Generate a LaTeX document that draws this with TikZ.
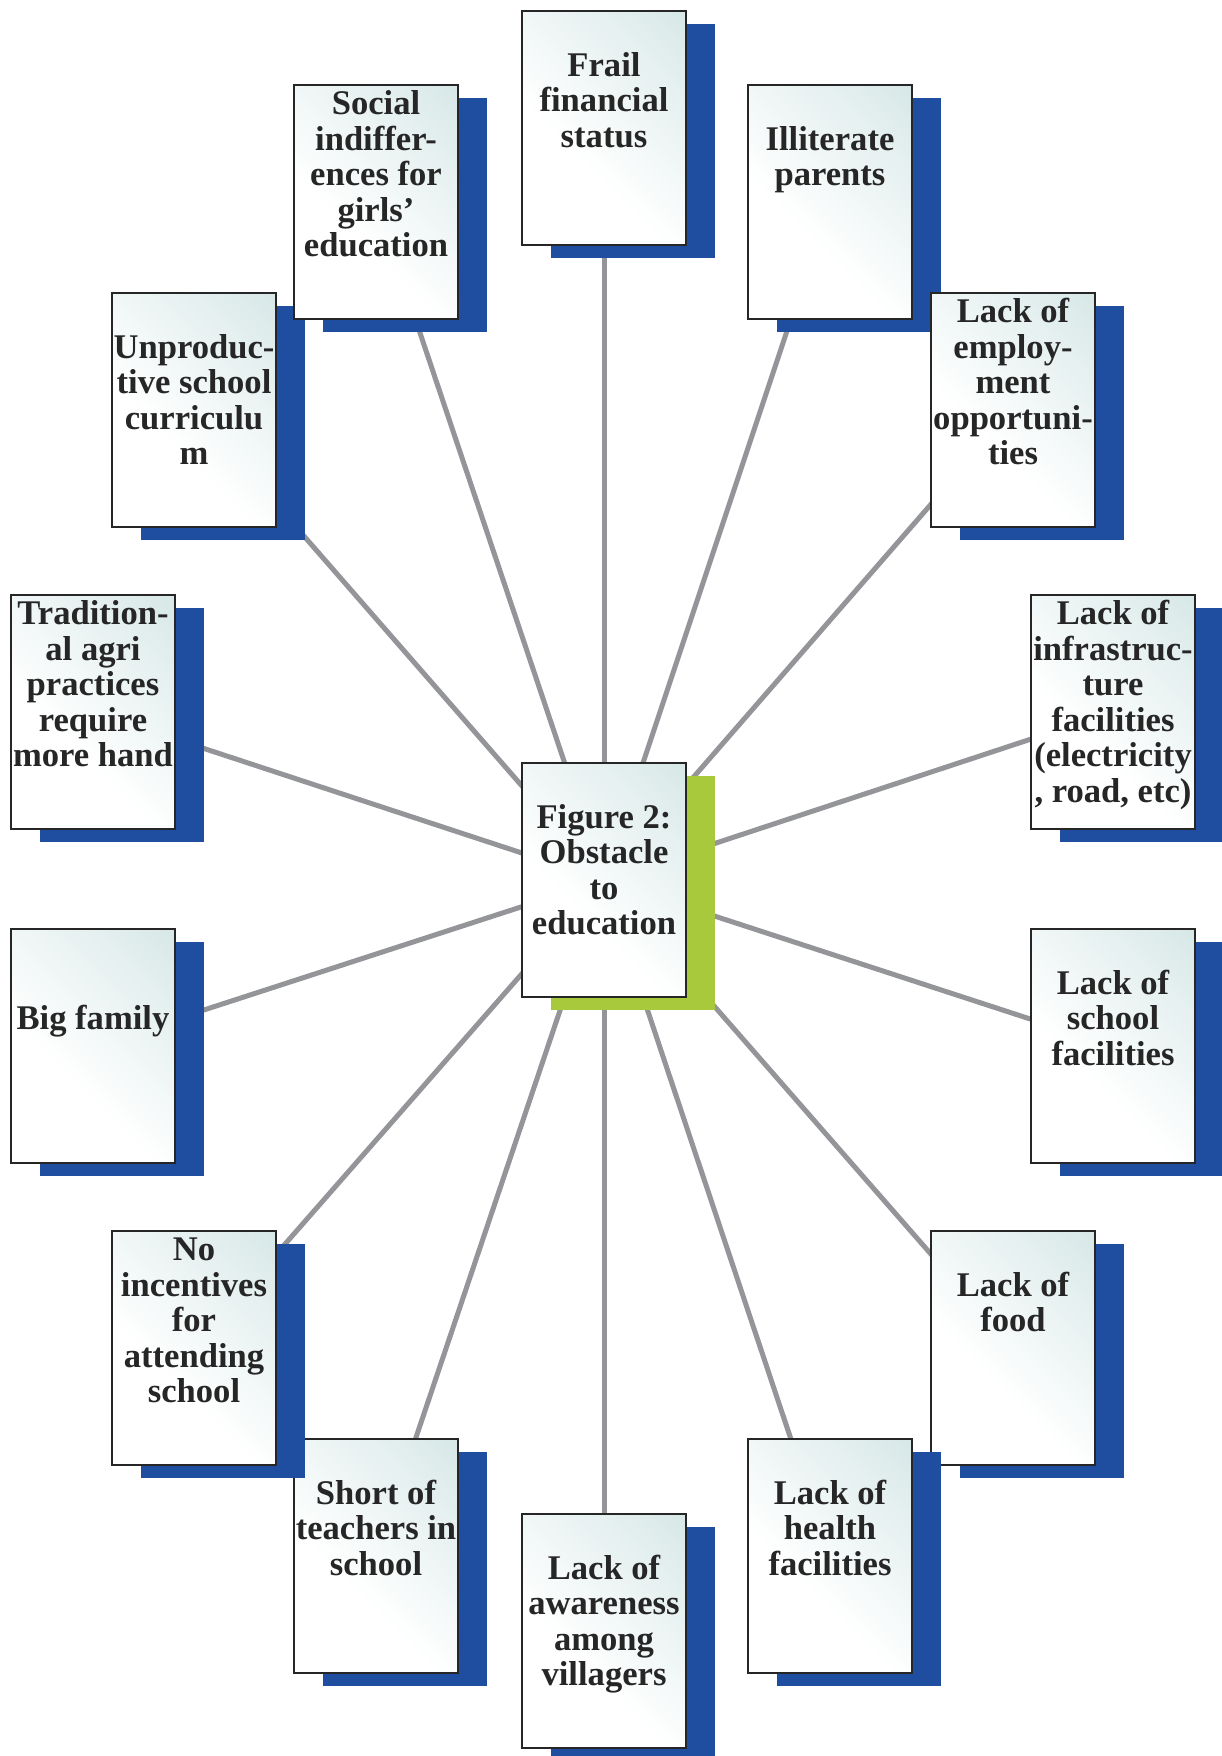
\documentclass[tikz,border=0pt]{standalone}
\usepackage{fontspec}
\setmainfont{Liberation Serif}
\usetikzlibrary{shadows,backgrounds}
\definecolor{obsBlue}{RGB}{31,78,160}
\definecolor{obsGreen}{RGB}{168,201,59}
\definecolor{obsTeal}{RGB}{200,223,222}
\definecolor{obsGrey}{RGB}{148,149,153}
\pgfdeclareverticalshading{obsfade}{100bp}{color(0bp)=(white); color(40bp)=(white); color(75bp)=(obsTeal!55); color(100bp)=(obsTeal)}

\newlength\obsskip
\setlength\obsskip{17.8pt}
% text of a box, pushed down by #1 empty lines
\newcommand{\obstext}[2]{\parbox[c][117pt][t]{82pt}{\centering
  \rule{0pt}{\dimexpr 14.7pt+#1\obsskip\relax}#2}}

\tikzset{
  boxbase/.style={rectangle, draw=black!85, line width=0.8pt, inner sep=0pt,
    shading=obsfade, shading angle=-45, text=black!85,
    font=\fontsize{17.3}{17.8}\selectfont\bfseries},
  obsbox/.style={boxbase,
    general shadow={fill=obsBlue, shadow xshift=14.5pt, shadow yshift=-6.5pt}},
  hubbox/.style={boxbase,
    general shadow={fill=obsGreen, shadow xshift=14.5pt, shadow yshift=-6.5pt}},
  spoke/.style={draw=obsGrey, line width=2.5pt}
}

\begin{document}
\begin{tikzpicture}[x=0.5pt, y=-0.5pt]
  \useasboundingbox (0,0) rectangle (1221,1756);

  \node[hubbox] (hub) at (604,880) {\obstext{1}{Figure 2:\\ Obstacle\\ to\\ education}};

  \node[obsbox] (frail)     at (604,128)   {\obstext{1}{Frail\\ financial\\ status}};
  \node[obsbox] (illit)     at (830,202)   {\obstext{1}{Illiterate\\ parents}};
  \node[obsbox] (employ)    at (1013,410)  {\obstext{0}{Lack of\\ employ-\\ ment\\ opportuni-\\ ties}};
  \node[obsbox] (infra)     at (1113,712)  {\obstext{0}{Lack of\\ infrastruc-\\ ture\\ facilities\\ (electricity\\ , road, etc)}};
  \node[obsbox] (schoolfac) at (1113,1046) {\obstext{1}{Lack of\\ school\\ facilities}};
  \node[obsbox] (food)      at (1013,1348) {\obstext{1}{Lack of\\ food}};
  \node[obsbox] (health)    at (830,1556)  {\obstext{1}{Lack of\\ health\\ facilities}};
  \node[obsbox] (aware)     at (604,1631)  {\obstext{1}{Lack of\\ awareness\\ among\\ villagers}};
  \node[obsbox] (teachers)  at (376,1556)  {\obstext{1}{Short of\\ teachers in\\ school}};
  \node[obsbox] (incent)    at (194,1348)  {\obstext{0}{No\\ incentives\\ for\\ attending\\ school}};
  \node[obsbox] (bigfam)    at (93,1046)   {\obstext{2}{Big family}};
  \node[obsbox] (agri)      at (93,712)    {\obstext{0}{Tradition-\\ al agri\\ practices\\ require\\ more hand}};
  \node[obsbox] (curric)    at (194,410)   {\obstext{1}{Unproduc-\\ tive school\\ curriculu\\ m}};
  \node[obsbox] (social)    at (376,202)   {\obstext{0}{Social\\ indiffer-\\ ences for\\ girls’\\ education}};

  % spokes behind the boxes
  \begin{scope}[on background layer]
    \foreach \n in {frail,illit,employ,infra,schoolfac,food,health,aware,teachers,incent,bigfam,agri,curric,social}
      \draw[spoke] (hub.center) -- (\n.center);
  \end{scope}
\end{tikzpicture}
\end{document}
